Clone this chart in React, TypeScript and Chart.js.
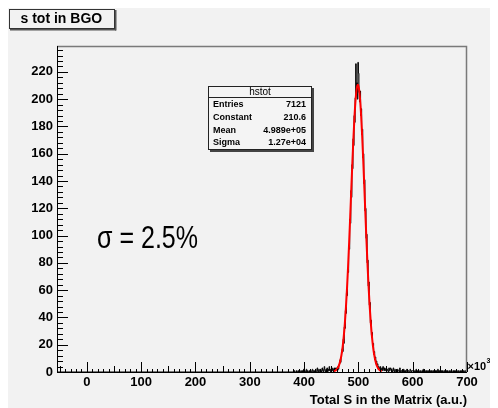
import React, { useEffect, useRef } from 'react';
import { Chart, registerables } from 'chart.js';

Chart.register(...registerables);

// ---------- data ----------
const chartTitle = 's tot in BGO';
const xAxisTitle = 'Total S in the Matrix (a.u.)';
const xTickValues = [0, 100, 200, 300, 400, 500, 600, 700];
const yTickValues = [0, 20, 40, 60, 80, 100, 120, 140, 160, 180, 200, 220];
const xMin = -55;
const xMax = 700;
const yMax = 239;

// histogram: bins of width 1 (x10^3), first bin low edge = histStart
const histStart = 380;
const histCounts = [
  0, 0, 1, 0, 0, 0, 1, 0, 0, 1,
  0, 1, 0, 0, 1, 0, 0, 1, 0, 2,
  0, 1, 0, 0, 2, 0, 1, 0, 0, 1,
  0, 1, 0, 0, 1, 2, 0, 1, 1, 0,
  1, 2, 0, 0, 3, 1, 0, 2, 1, 0,
  2, 0, 1, 3, 1, 0, 2, 4, 1, 0,
  2, 1, 3, 0, 2, 1, 4, 1, 2, 0,
  1, 3, 1, 2, 0, 3, 1, 2, 3, 2,
  3, 1, 4, 2, 5, 6, 9, 7, 11, 14,
  17, 15, 24, 21, 33, 32, 45, 43, 58, 56,
  74, 73, 92, 90, 112, 109, 133, 128, 152, 149,
  171, 166, 188, 183, 201, 226, 205, 212, 200, 227,
  219, 205, 198, 206, 188, 193, 174, 178, 157, 160,
  138, 141, 118, 120, 98, 101, 80, 82, 63, 66,
  49, 51, 36, 38, 27, 29, 19, 21, 13, 15,
  9, 11, 6, 8, 5, 6, 2, 4, 3, 2,
  4, 2, 1, 3, 1, 4, 2, 1, 3, 1,
  2, 3, 1, 2, 1, 0, 3, 1, 2, 3,
  1, 2, 0, 1, 3, 1, 0, 2, 1, 0,
  1, 0, 2, 1, 1, 0, 3, 0, 1, 1,
  0, 1, 0, 2, 1, 0, 1, 0, 1, 2,
  0, 1, 1, 0, 0, 2, 1, 0, 1, 1,
  1, 0, 1, 0, 0, 1, 2, 0, 1, 0,
  0, 1, 0, 0, 1, 0, 0, 1, 0, 2,
  0, 1, 0, 0, 1, 0, 1, 0, 0, 1,
  1, 0, 0, 1, 0, 1, 0, 0, 1, 0,
  0, 1, 0, 1, 0, 0, 2, 0, 1, 0,
  1, 0, 0, 1, 0, 1, 0, 0, 1, 0,
  0, 0, 1, 0, 1, 0, 0, 1, 0, 0,
  1, 0, 0, 0, 1, 0, 1, 0, 0, 1,
  0, 1, 0, 0, 1, 0, 0, 1, 0, 0,
  1, 0, 0, 1, 0, 0, 1, 0, 1, 0,
];

// gaussian fit curve
const fitX = [
  455, 457, 459, 461, 463, 465, 467, 469, 471, 473, 475, 477, 479, 481, 483, 485, 487, 489, 491, 493, 495, 497,
  499,
  501, 503, 505, 507, 509, 511, 513, 515, 517, 519, 521, 523, 525, 527, 529, 531, 533, 535, 537, 539, 541, 543,
];
const fitY = [
  0.5, 0.9, 1.5, 2.4, 3.8, 5.8, 8.8, 12.9, 18.5, 25.9, 35.3, 47.0, 60.9, 77.1, 95.2, 114.7, 134.8, 154.5, 172.7, 188.4, 200.4, 208.0,
  210.6,
  208.0, 200.4, 188.4, 172.7, 154.5, 134.8, 114.7, 95.2, 77.1, 60.9, 47.0, 35.3, 25.9, 18.5, 12.9, 8.8, 5.8, 3.8, 2.4, 1.5, 0.9, 0.5,
];

const statsTitle = 'hstot';
const statsLabels = ['Entries', 'Constant', 'Mean', 'Sigma'];
const statsValues = ['7121', '210.6', '4.989e+05', '1.27e+04'];
const sigmaText = 'σ = 2.5%';

const FONT = '"Liberation Sans", Arial, Helvetica, sans-serif';

const rootPlugin = {
  id: 'rootStyle',
  beforeDraw(chart: any) {
    const { ctx, width, height } = chart;
    ctx.save();
    ctx.fillStyle = '#f2f2f2';
    ctx.fillRect(0, 0, width, height);
    ctx.restore();
  },
  afterDatasetsDraw(chart: any) {
    const { ctx, chartArea: a } = chart;
    const xs = chart.scales.x;
    const ys = chart.scales.y;
    ctx.save();
    // top & right frame
    ctx.strokeStyle = '#7a7a7a';
    ctx.lineWidth = 1.5;
    ctx.beginPath();
    ctx.moveTo(a.left, a.top + 0.5);
    ctx.lineTo(a.right - 0.5, a.top + 0.5);
    ctx.lineTo(a.right - 0.5, a.bottom);
    ctx.stroke();
    // axes
    ctx.strokeStyle = '#000';
    ctx.lineWidth = 1;
    ctx.beginPath();
    ctx.moveTo(a.left + 0.5, a.top);
    ctx.lineTo(a.left + 0.5, a.bottom + 0.5);
    ctx.lineTo(a.right, a.bottom + 0.5);
    ctx.stroke();
    // y ticks (inward)
    ctx.beginPath();
    for (let v = 0; v <= yMax; v += 4) {
      const py = Math.round(ys.getPixelForValue(v)) + 0.5;
      const len = v % 20 === 0 ? 11 : 6;
      ctx.moveTo(a.left, py);
      ctx.lineTo(a.left + len, py);
    }
    // x ticks (inward)
    for (let v = -50; v <= xMax; v += 10) {
      const px = Math.round(xs.getPixelForValue(v)) + 0.5;
      const len = v % 100 === 0 ? 10 : v % 50 === 0 ? 6 : 3;
      ctx.moveTo(px, a.bottom);
      ctx.lineTo(px, a.bottom - len);
    }
    ctx.stroke();
    ctx.restore();
  },
  afterDraw(chart: any) {
    const { ctx, chartArea: a } = chart;
    ctx.save();
    // title box
    ctx.fillStyle = '#f2f2f2';
    ctx.fillRect(1, 1, 106, 20);
    ctx.strokeStyle = '#333';
    ctx.lineWidth = 1;
    ctx.strokeRect(1.5, 1.5, 105, 19);
    ctx.fillStyle = '#555';
    ctx.fillRect(2, 21, 106, 1.5);
    ctx.fillRect(107, 2, 1.5, 20.5);
    ctx.fillStyle = '#000';
    ctx.font = `bold 14px ${FONT}`;
    ctx.textBaseline = 'middle';
    ctx.textAlign = 'left';
    ctx.fillText(chartTitle, 12.5, 11.5);

    // stats box
    const bx = 200, by = 78, bw = 104, bh = 64;
    ctx.fillStyle = '#f4f4f4';
    ctx.fillRect(bx, by, bw, bh);
    ctx.fillStyle = '#444';
    ctx.fillRect(bx + 2, by + bh, bw, 2);
    ctx.fillRect(bx + bw, by + 2, 2, bh);
    ctx.strokeStyle = '#222';
    ctx.strokeRect(bx + 0.5, by + 0.5, bw - 1, bh - 1);
    ctx.beginPath();
    ctx.moveTo(bx, by + 11.5);
    ctx.lineTo(bx + bw, by + 11.5);
    ctx.stroke();
    ctx.fillStyle = '#000';
    ctx.font = `10px ${FONT}`;
    ctx.textAlign = 'center';
    ctx.fillText(statsTitle, bx + bw / 2, by + 6);
    ctx.font = `bold 9px ${FONT}`;
    statsLabels.forEach((lab, i) => {
      const yy = by + 18.5 + i * 12.8;
      ctx.textAlign = 'left';
      ctx.fillText(lab, bx + 5, yy);
      ctx.textAlign = 'right';
      ctx.fillText(statsValues[i], bx + bw - 6, yy);
    });

    // sigma text
    ctx.font = `32px ${FONT}`;
    ctx.textAlign = 'left';
    ctx.textBaseline = 'alphabetic';
    const w = ctx.measureText(sigmaText).width;
    ctx.save();
    ctx.translate(89, 240);
    ctx.scale(101 / w, 1);
    ctx.fillText(sigmaText, 0, 0);
    ctx.restore();

    // x10^3
    ctx.font = `bold 11px ${FONT}`;
    ctx.textBaseline = 'middle';
    const xw = ctx.measureText('×10').width;
    ctx.fillText('×10', a.right + 0.5, a.bottom - 5);
    ctx.font = `bold 7px ${FONT}`;
    ctx.fillText('3', a.right + 0.5 + xw + 0.3, a.bottom - 11);
    ctx.restore();
  },
};

export default function App() {
  const ref = useRef<HTMLCanvasElement>(null);
  useEffect(() => {
    document.documentElement.style.overflow = 'hidden';
    const canvas = ref.current!;
    const histData: { x: number; y: number }[] = [{ x: xMin, y: 0 }];
    histCounts.forEach((c, i) => histData.push({ x: histStart + i + 0.5, y: c }));
    histData.push({ x: xMax, y: 0 });
    const fitData = fitX.map((x, i) => ({ x, y: fitY[i] }));

    const tickFont = { family: FONT, size: 13, weight: 'bold' as const };
    const chart = new Chart(canvas, {
      type: 'line',
      data: {
        datasets: [
          {
            label: 'fit',
            data: fitData,
            borderColor: '#ff0000',
            borderWidth: 2,
            pointRadius: 0,
            cubicInterpolationMode: 'monotone',
            order: 0,
          },
          {
            label: 'hstot',
            data: histData,
            borderColor: '#000',
            borderWidth: 1,
            pointRadius: 0,
            stepped: 'middle',
            order: 1,
          },
        ],
      },
      options: {
        responsive: false,
        animation: false,
        events: [],
        layout: { padding: { top: 38, right: 31, left: 0, bottom: 0 } },
        plugins: { legend: { display: false }, tooltip: { enabled: false }, title: { display: false } },
        scales: {
          x: {
            type: 'linear',
            min: xMin,
            max: xMax,
            afterBuildTicks: (s: any) => {
              s.ticks = xTickValues.map((v) => ({ value: v }));
            },
            afterFit: (s: any) => {
              s.height = 36;
            },
            grid: { display: false, drawTicks: false },
            border: { display: false },
            ticks: { padding: 3, color: '#000', font: tickFont, maxRotation: 0, autoSkip: false },
            title: {
              display: true,
              text: xAxisTitle,
              align: 'end',
              color: '#000',
              font: { family: FONT, size: 13, weight: 'bold' },
              padding: { top: 0, bottom: 0 },
            },
          },
          y: {
            type: 'linear',
            min: 0,
            max: yMax,
            afterBuildTicks: (s: any) => {
              s.ticks = yTickValues.map((v) => ({ value: v }));
            },
            afterFit: (s: any) => {
              s.width = 49;
            },
            grid: { display: false, drawTicks: false },
            border: { display: false },
            ticks: { padding: 4, color: '#000', font: tickFont, autoSkip: false },
          },
        },
      },
      plugins: [rootPlugin],
    } as any);
    return () => chart.destroy();
  }, []);
  return (
    <div style={{ width: 490, height: 400 }}>
      <canvas ref={ref} width={490} height={400} style={{ display: 'block', width: 490, height: 400 }} />
    </div>
  );
}
